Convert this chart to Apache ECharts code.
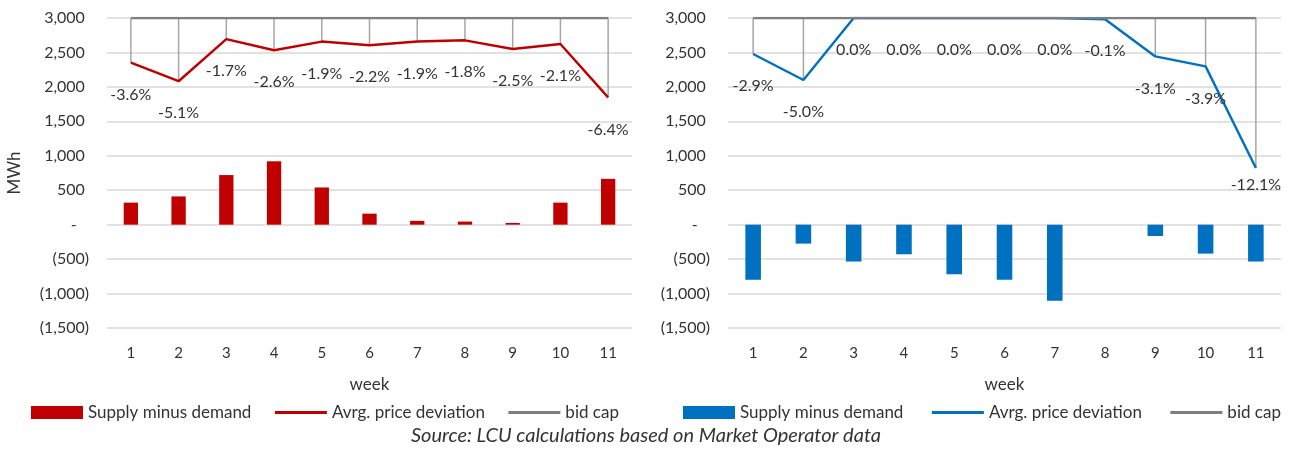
<!DOCTYPE html>
<html>
<head>
<meta charset="utf-8">
<script src="https://cdn.jsdelivr.net/npm/echarts@6/dist/echarts.min.js"></script>
<style>
  html, body { margin: 0; padding: 0; background: #fff; }
  #chart { width: 1292px; height: 451px; }
</style>
</head>
<body>
<div id="chart"></div>
<script>
// weeks on the x axis
const weeks = ['1', '2', '3', '4', '5', '6', '7', '8', '9', '10', '11'];

// left panel: supply minus demand (MWh) and average price deviation (%)
const leftSupply = [320, 410, 720, 920, 540, 160, 55, 45, 25, 320, 665];
const leftDeviation = [-3.6, -5.1, -1.7, -2.6, -1.9, -2.2, -1.9, -1.8, -2.5, -2.1, -6.4];

// right panel
const rightSupply = [-800, -275, -535, -430, -720, -800, -1105, 0, -165, -420, -535];
const rightDeviation = [-2.9, -5.0, 0.0, 0.0, 0.0, 0.0, 0.0, -0.1, -3.1, -3.9, -12.1];

// bid cap sits at 0% deviation
const bidCap = weeks.map(() => 0);

const FONT = 'Lato';
const TXT = '#333';

const fmtAcct = (v) => {
  if (v === 0) return '-   ';
  const s = Math.abs(v).toLocaleString('en-US');
  return v < 0 ? '(' + s + ')' : s + ' ';
};

const chart = echarts.init(document.getElementById('chart'));

const grids = [
  { left: 107, right: 660, top: 18, bottom: 123 },
  { left: 728, right: 11, top: 18, bottom: 123 }
];

const makeXAxis = (gi) => ({
  type: 'category',
  gridIndex: gi,
  data: weeks,
  name: 'week',
  nameLocation: 'middle',
  nameGap: 48,
  nameTextStyle: { color: TXT, fontFamily: FONT, fontSize: 17 },
  axisLine: { show: false },
  axisTick: { show: false },
  axisLabel: { color: TXT, fontFamily: FONT, fontSize: 15, margin: 18 }
});

const makeYAxis = (gi, withName) => ({
  type: 'value',
  gridIndex: gi,
  min: -1500,
  max: 3000,
  interval: 500,
  name: withName ? 'MWh' : '',
  nameLocation: 'middle',
  nameGap: 84,
  nameRotate: 90,
  nameTextStyle: { color: TXT, fontFamily: FONT, fontSize: 17 },
  axisLine: { show: false },
  axisTick: { show: false },
  splitLine: { lineStyle: { color: '#d9d9d9', width: 1.5 } },
  axisLabel: { color: TXT, fontFamily: FONT, fontSize: 16, margin: 18, formatter: fmtAcct }
});

const makeDevAxis = (gi) => ({
  type: 'value',
  gridIndex: gi,
  min: -25,
  max: 0,
  show: false,
  splitLine: { show: false }
});

const makeDrops = (xi, yi, dev) => ({
  type: 'custom',
  name: 'drops',
  xAxisIndex: xi,
  yAxisIndex: yi,
  z: 2,
  silent: true,
  data: dev.map((d, i) => [i, d]),
  renderItem: (params, api) => {
    const top = api.coord([api.value(0), 0]);
    const bot = api.coord([api.value(0), api.value(1)]);
    return {
      type: 'line',
      shape: { x1: top[0], y1: top[1], x2: bot[0], y2: bot[1] },
      style: { stroke: '#a6a6a6', lineWidth: 1.5 }
    };
  }
});

const makeSeries = (suffix, xi, yi, devYi, supply, dev, color, barWidth, lastLabelDist) => [
  {
    name: 'Supply minus demand' + suffix,
    type: 'bar',
    xAxisIndex: xi,
    yAxisIndex: yi,
    barWidth: barWidth,
    itemStyle: { color: color },
    data: supply
  },
  makeDrops(xi, devYi, dev),
  {
    name: 'Avrg. price deviation' + suffix,
    type: 'line',
    xAxisIndex: xi,
    yAxisIndex: devYi,
    symbol: 'circle',
    symbolSize: 0,
    showSymbol: true,
    z: 3,
    lineStyle: { color: color, width: 2.4 },
    itemStyle: { color: color },
    label: {
      show: true,
      position: 'bottom',
      distance: 24,
      color: TXT,
      fontFamily: FONT,
      fontSize: 16,
      formatter: (p) => p.value.toFixed(1) + '%'
    },
    data: dev.map((d, i) => (i === dev.length - 1 && lastLabelDist != null)
      ? { value: d, label: { distance: lastLabelDist } }
      : d)
  },
  {
    name: 'bid cap' + suffix,
    type: 'line',
    xAxisIndex: xi,
    yAxisIndex: devYi,
    symbol: 'none',
    z: 4,
    lineStyle: { color: '#7f7f7f', width: 2.4 },
    itemStyle: { color: '#7f7f7f' },
    data: bidCap
  }
];

const makeLegend = (left, gap, suffix) => ({
  left: left,
  top: 399,
  itemWidth: 52,
  itemHeight: 13,
  itemGap: gap,
  textStyle: { color: TXT, fontFamily: FONT, fontSize: 17 },
  formatter: (name) => name.replace(' (R)', ''),
  data: [
    { name: 'Supply minus demand' + suffix, icon: 'rect' },
    { name: 'Avrg. price deviation' + suffix, itemStyle: { opacity: 0 }, lineStyle: { width: 3 } },
    { name: 'bid cap' + suffix, itemStyle: { opacity: 0 }, lineStyle: { width: 3 } }
  ]
});

const option = {
  animation: false,
  grid: grids,
  xAxis: [makeXAxis(0), makeXAxis(1)],
  yAxis: [makeYAxis(0, true), makeDevAxis(0), makeYAxis(1, false), makeDevAxis(1)],
  legend: [makeLegend(26, 22, ''), makeLegend(678, 27, ' (R)')],
  graphic: [{
    type: 'text',
    left: 'center',
    top: 426,
    style: {
      text: 'Source: LCU calculations based on Market Operator data',
      fill: TXT,
      font: 'italic 20px ' + FONT
    }
  }],
  series: [
    ...makeSeries('', 0, 0, 1, leftSupply, leftDeviation, '#c00000', '30%', null),
    ...makeSeries(' (R)', 1, 2, 3, rightSupply, rightDeviation, '#0070c0', '31%', 9)
  ]
};

chart.setOption(option);
</script>
</body>
</html>
